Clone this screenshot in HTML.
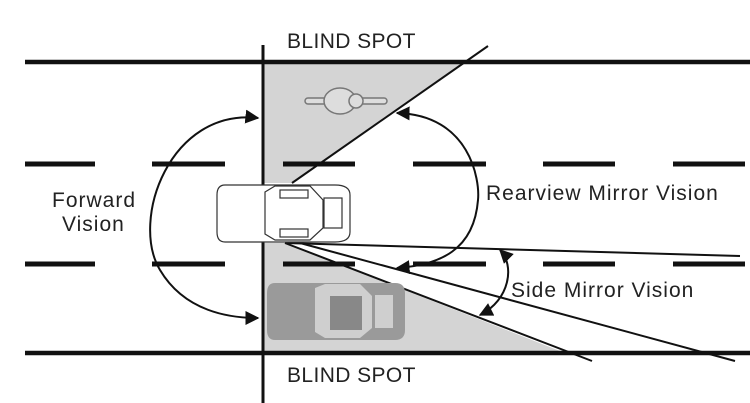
<!DOCTYPE html>
<html><head><style>body{margin:0;background:#fff}svg{display:block}text{font-family:"Liberation Sans",sans-serif;fill:#222}</style></head>
<body>
<svg width="750" height="403" viewBox="0 0 750 403" xmlns="http://www.w3.org/2000/svg">
<defs><marker id="a" viewBox="0 0 10 10" refX="9" refY="5" markerWidth="7" markerHeight="7" orient="auto-start-reverse"><path d="M0,0L10,5L0,10z" fill="#111"/></marker></defs>
<polygon points="263,62 465,62 292,183 263,183" fill="#d4d4d4"/>
<polygon points="263,243 285,243 565,353 263,353" fill="#d4d4d4"/>
<g stroke="#111" stroke-width="4.5">
<line x1="25" y1="62" x2="750" y2="62"/>
<line x1="25" y1="353" x2="750" y2="353"/>
</g>
<g stroke="#111" stroke-width="5">
<path d="M25 164H95M152 164H225M283 164H355M413 164H486M543 164H615M673 164H745"/>
<path d="M25 264H95M152 264H225M283 264H355M413 264H486M543 264H615M673 264H745"/>
</g>
<line x1="263" y1="45" x2="263" y2="403" stroke="#111" stroke-width="3"/>
<g stroke="#111" stroke-width="2" fill="none">
<line x1="292" y1="183" x2="488" y2="46"/>
<line x1="285" y1="243" x2="740" y2="256"/>
<line x1="300" y1="243" x2="735" y2="361"/>
<line x1="285" y1="243" x2="592" y2="361"/>
</g>
<g stroke="#777" stroke-width="1.5" fill="#ddd">
<rect x="305" y="98" width="82" height="6" rx="3"/>
<ellipse cx="340" cy="101" rx="16" ry="13"/>
<circle cx="356" cy="101" r="7"/>
</g>
<g stroke="#333" stroke-width="1.2" fill="#fff">
<path d="M225 185H335Q350 185 350 195V232Q350 242 335 242H225Q217 242 217 232V195Q217 185 225 185Z"/>
<path d="M265 192L275 186H310L323 200V228L310 240H275L265 234Z"/>
<rect x="280" y="190" width="28" height="8"/><rect x="280" y="229" width="28" height="8"/>
<rect x="324" y="198" width="18" height="30"/>
</g>
<g>
<path d="M275 283H395Q405 283 405 293V330Q405 340 395 340H275Q267 340 267 330V293Q267 283 275 283Z" fill="#9a9a9a"/>
<path d="M315 288L325 284H360L372 296V328L360 338H325L315 332Z" fill="#cfcfcf"/>
<rect x="330" y="296" width="32" height="34" fill="#888"/>
<rect x="375" y="295" width="18" height="33" fill="#cfcfcf"/>
</g>
<g stroke="#111" stroke-width="2" fill="none">
<path d="M258 118C170 108 130 220 160 270C185 312 230 318 258 318" marker-start="url(#a)" marker-end="url(#a)"/>
<path d="M397 113C470 115 480 180 478 200C474 250 440 265 397 268" marker-start="url(#a)" marker-end="url(#a)"/>
<path d="M500 250C515 265 510 300 480 315" marker-start="url(#a)" marker-end="url(#a)"/>
</g>
<g font-size="21" letter-spacing="1">
<text x="287" y="48" letter-spacing="0.4">BLIND SPOT</text>
<text x="287" y="382" letter-spacing="0.4">BLIND SPOT</text>
<text x="52" y="207">Forward</text>
<text x="62" y="231">Vision</text>
<text x="486" y="200">Rearview Mirror Vision</text>
<text x="511" y="297">Side Mirror Vision</text>
</g>
</svg>
</body></html>
